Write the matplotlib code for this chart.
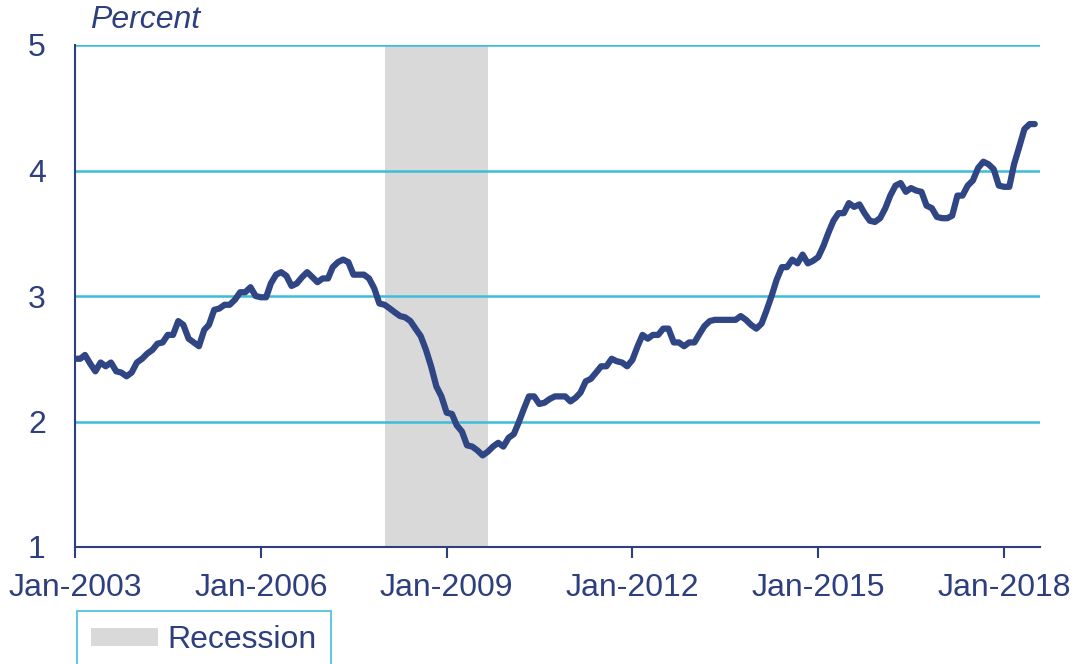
import numpy as np
import pandas as pd
import matplotlib
matplotlib.use('Agg')
import matplotlib.pyplot as plt
import matplotlib.dates as mdates
from matplotlib.patches import Patch

# monthly values, Jan-2003 .. Jul-2018 (percent)
rate = [
    2.50, 2.50, 2.53, 2.46, 2.40, 2.47, 2.44, 2.47, 2.40, 2.39, 2.36, 2.39,  # 2003
    2.47, 2.50, 2.54, 2.57, 2.62, 2.63, 2.69, 2.69, 2.80, 2.77, 2.66, 2.63,  # 2004
    2.60, 2.73, 2.77, 2.89, 2.90, 2.93, 2.93, 2.97, 3.03, 3.03, 3.07, 3.00,  # 2005
    2.99, 2.99, 3.10, 3.17, 3.19, 3.16, 3.08, 3.10, 3.15, 3.19, 3.15, 3.11,  # 2006
    3.14, 3.14, 3.23, 3.27, 3.29, 3.27, 3.17, 3.17, 3.17, 3.14, 3.06, 2.94,  # 2007
    2.93, 2.90, 2.87, 2.84, 2.83, 2.80, 2.74, 2.68, 2.57, 2.44, 2.28, 2.20,  # 2008
    2.07, 2.06, 1.97, 1.92, 1.81, 1.80, 1.77, 1.73, 1.76, 1.80, 1.83, 1.80,  # 2009
    1.87, 1.90, 1.99, 2.10, 2.20, 2.20, 2.14, 2.15, 2.18, 2.20, 2.20, 2.20,  # 2010
    2.16, 2.19, 2.23, 2.32, 2.34, 2.39, 2.44, 2.44, 2.50, 2.48, 2.47, 2.44,  # 2011
    2.49, 2.60, 2.69, 2.66, 2.69, 2.69, 2.74, 2.74, 2.63, 2.63, 2.60, 2.63,  # 2012
    2.63, 2.70, 2.76, 2.80, 2.81, 2.81, 2.81, 2.81, 2.81, 2.84, 2.81, 2.77,  # 2013
    2.74, 2.78, 2.88, 3.00, 3.13, 3.23, 3.23, 3.29, 3.26, 3.33, 3.26, 3.28,  # 2014
    3.31, 3.40, 3.50, 3.60, 3.66, 3.66, 3.74, 3.71, 3.73, 3.66, 3.60, 3.59,  # 2015
    3.62, 3.70, 3.80, 3.88, 3.90, 3.83, 3.86, 3.84, 3.83, 3.72, 3.70, 3.63,  # 2016
    3.62, 3.62, 3.64, 3.80, 3.80, 3.88, 3.92, 4.02, 4.07, 4.05, 4.01, 3.88,  # 2017
    3.87, 3.87, 4.05, 4.19, 4.33, 4.37, 4.37,                                # 2018
]
dates = pd.date_range('2003-01-01', periods=len(rate), freq='MS')

recession_start = pd.Timestamp('2008-01-01')
recession_end = pd.Timestamp('2009-09-01')

tick_years = [2003, 2006, 2009, 2012, 2015, 2018]
y_ticks = [1, 2, 3, 4, 5]

navy = '#2e3f7f'
line_col = '#2f4584'
cyan = '#3cbcd8'
grey = '#d9d9d9'

plt.rcParams['font.family'] = ['Liberation Sans', 'DejaVu Sans']

fig = plt.figure(figsize=(10.78, 6.64), dpi=100)
ax = fig.add_axes([75 / 1078, 1 - 547 / 664, (1040 - 75) / 1078, (547 - 45) / 664])

ax.axvspan(recession_start, recession_end, color=grey, lw=0, zorder=1)
for y in y_ticks[1:]:
    ax.axhline(y, color=cyan, lw=1.8, zorder=2)
ax.plot(dates, rate, color=line_col, lw=4.5, solid_capstyle='round',
        solid_joinstyle='round', zorder=3)

ax.set_xlim(pd.Timestamp('2003-01-01'), pd.Timestamp('2018-08-01'))
ax.set_ylim(1, 5)
ax.set_yticks(y_ticks)
ax.set_xticks([pd.Timestamp(f'{y}-01-01') for y in tick_years])
ax.xaxis.set_major_formatter(mdates.DateFormatter('%b-%Y'))

for s in ['top', 'right']:
    ax.spines[s].set_visible(False)
for s in ['left', 'bottom']:
    ax.spines[s].set_color(navy)
    ax.spines[s].set_linewidth(1.5)

ax.tick_params(axis='x', colors=navy, labelsize=23, length=8, width=1.5,
               direction='out', pad=11)
ax.tick_params(axis='y', colors=navy, labelsize=23, length=0, pad=21)

fig.text(90 / 1078, 1 - 20 / 664, 'Percent', style='italic', color=navy,
         fontsize=23, va='center', ha='left')

leg = fig.legend(handles=[Patch(facecolor=grey, edgecolor='none', label='Recession')],
                 loc='upper left', bbox_to_anchor=(77 / 1078, 1 - 611 / 664),
                 fontsize=23, frameon=True, fancybox=False, borderaxespad=0,
                 handlelength=2.1, handleheight=0.5, handletextpad=0.28,
                 borderpad=0.45, labelcolor=navy)
leg.get_frame().set_edgecolor(cyan)
leg.get_frame().set_linewidth(1.5)

fig.savefig('out.png', dpi=100)
